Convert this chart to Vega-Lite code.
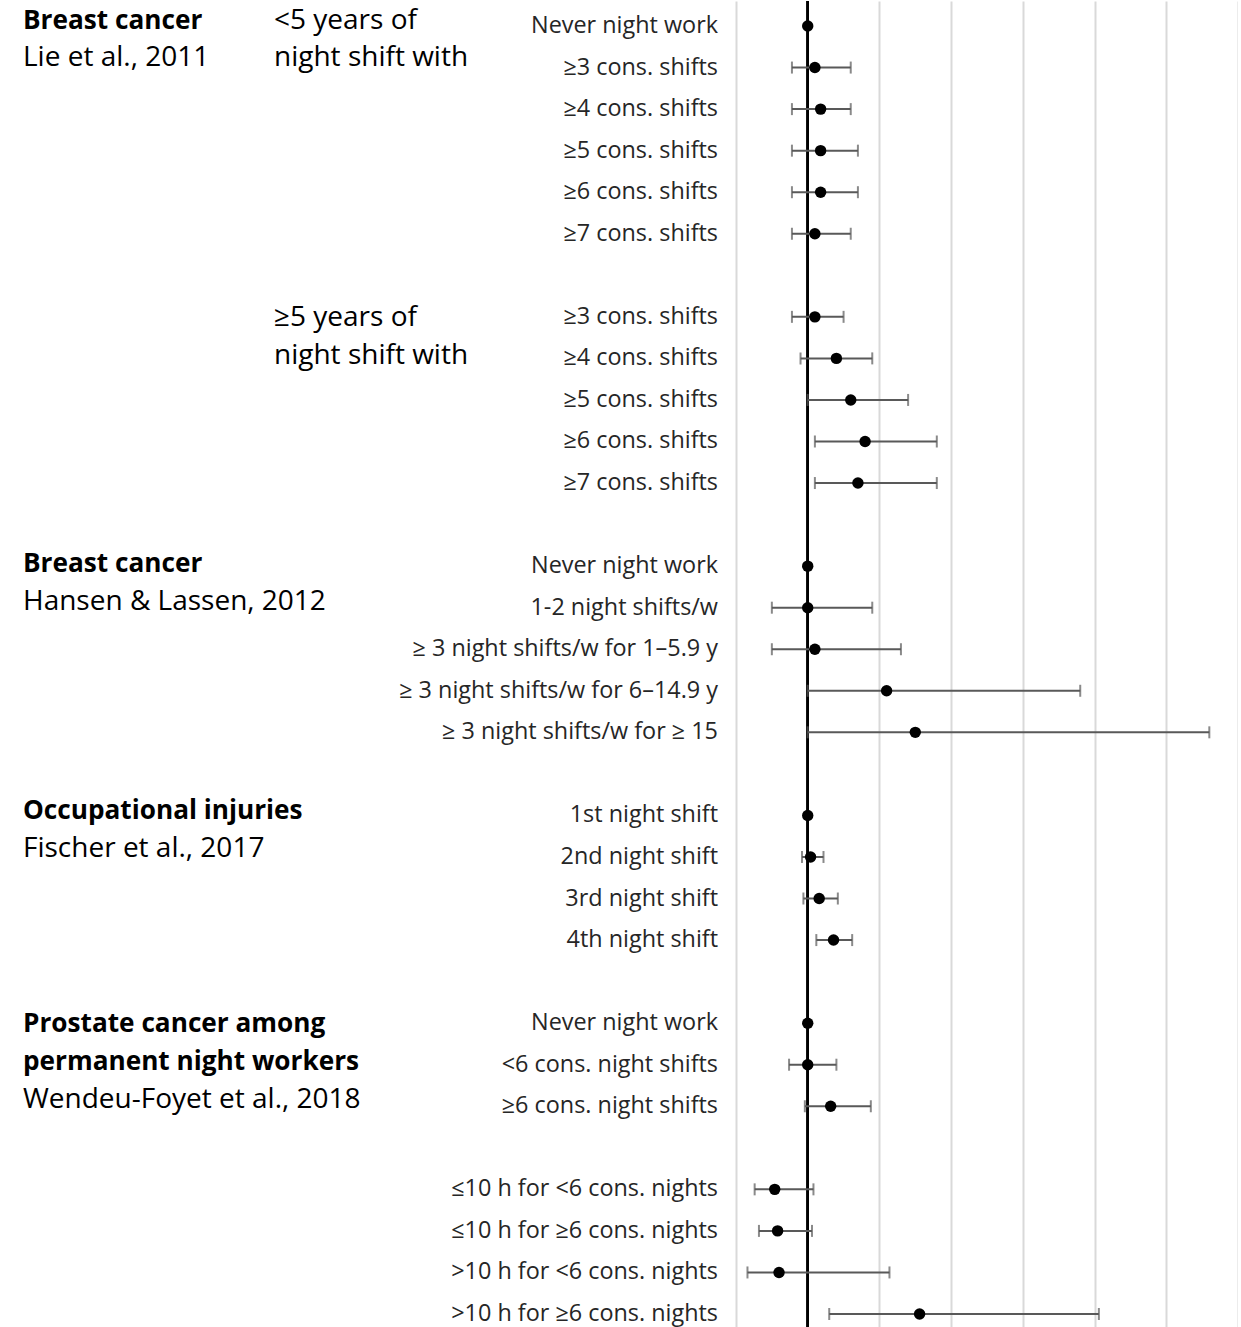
{
  "$schema": "https://vega.github.io/schema/vega-lite/v6.json",
  "padding": 0,
  "bounds": "flush",
  "spacing": 439,
  "config": {"view": {"stroke": null}, "font": "Open Sans"},
  "datasets": {
    "rows": [
      {"row": 0, "label": "Never night work", "est": 1.0, "lo": null, "hi": null},
      {"row": 1, "label": "≥3 cons. shifts", "est": 1.05, "lo": 0.89, "hi": 1.30},
      {"row": 2, "label": "≥4 cons. shifts", "est": 1.09, "lo": 0.89, "hi": 1.30},
      {"row": 3, "label": "≥5 cons. shifts", "est": 1.09, "lo": 0.89, "hi": 1.35},
      {"row": 4, "label": "≥6 cons. shifts", "est": 1.09, "lo": 0.89, "hi": 1.35},
      {"row": 5, "label": "≥7 cons. shifts", "est": 1.05, "lo": 0.89, "hi": 1.30},
      {"row": 7, "label": "≥3 cons. shifts", "est": 1.05, "lo": 0.89, "hi": 1.25},
      {"row": 8, "label": "≥4 cons. shifts", "est": 1.2, "lo": 0.95, "hi": 1.45},
      {"row": 9, "label": "≥5 cons. shifts", "est": 1.3, "lo": 1.0, "hi": 1.7},
      {"row": 10, "label": "≥6 cons. shifts", "est": 1.4, "lo": 1.05, "hi": 1.9},
      {"row": 11, "label": "≥7 cons. shifts", "est": 1.35, "lo": 1.05, "hi": 1.9},
      {"row": 13, "label": "Never night work", "est": 1.0, "lo": null, "hi": null},
      {"row": 14, "label": "1-2 night shifts/w", "est": 1.0, "lo": 0.75, "hi": 1.45},
      {"row": 15, "label": "≥ 3 night shifts/w for 1–5.9 y", "est": 1.05, "lo": 0.75, "hi": 1.65},
      {"row": 16, "label": "≥ 3 night shifts/w for 6–14.9 y", "est": 1.55, "lo": 1.0, "hi": 2.9},
      {"row": 17, "label": "≥ 3 night shifts/w for ≥ 15\u00a0", "est": 1.75, "lo": 1.0, "hi": 3.8},
      {"row": 19, "label": "1st night shift", "est": 1.0, "lo": null, "hi": null},
      {"row": 20, "label": "2nd night shift", "est": 1.02, "lo": 0.96, "hi": 1.11},
      {"row": 21, "label": "3rd night shift", "est": 1.08, "lo": 0.97, "hi": 1.21},
      {"row": 22, "label": "4th night shift", "est": 1.18, "lo": 1.06, "hi": 1.31},
      {"row": 24, "label": "Never night work", "est": 1.0, "lo": null, "hi": null},
      {"row": 25, "label": "<6 cons. night shifts", "est": 1.0, "lo": 0.87, "hi": 1.2},
      {"row": 26, "label": "≥6 cons. night shifts", "est": 1.16, "lo": 0.98, "hi": 1.44},
      {"row": 28, "label": "≤10 h for <6 cons. nights", "est": 0.77, "lo": 0.63, "hi": 1.04},
      {"row": 29, "label": "≤10 h for ≥6 cons. nights", "est": 0.79, "lo": 0.66, "hi": 1.03},
      {"row": 30, "label": ">10 h for <6 cons. nights", "est": 0.80, "lo": 0.58, "hi": 1.57},
      {"row": 31, "label": ">10 h for ≥6 cons. nights", "est": 1.78, "lo": 1.15, "hi": 3.03}
    ],
    "notes": [
      {"row": -0.12, "col": "outcome", "kind": "outcome", "text": "Breast cancer"},
      {"row": 0.77, "col": "outcome", "kind": "study", "text": "Lie et al., 2011"},
      {"row": -0.12, "col": "exposure", "kind": "exposure", "text": "<5 years of"},
      {"row": 0.77, "col": "exposure", "kind": "exposure", "text": "night shift with"},
      {"row": 7.03, "col": "exposure", "kind": "exposure", "text": "≥5 years of"},
      {"row": 7.94, "col": "exposure", "kind": "exposure", "text": "night shift with"},
      {"row": 12.95, "col": "outcome", "kind": "outcome", "text": "Breast cancer"},
      {"row": 13.86, "col": "outcome", "kind": "study", "text": "Hansen & Lassen, 2012"},
      {"row": 18.89, "col": "outcome", "kind": "outcome", "text": "Occupational injuries"},
      {"row": 19.81, "col": "outcome", "kind": "study", "text": "Fischer et al., 2017"},
      {"row": 24.02, "col": "outcome", "kind": "outcome", "text": "Prostate cancer among"},
      {"row": 24.93, "col": "outcome", "kind": "outcome", "text": "permanent night workers"},
      {"row": 25.85, "col": "outcome", "kind": "study", "text": "Wendeu-Foyet et al., 2018"}
    ]
  },
  "hconcat": [
    {
      "width": 297,
      "height": 1327,
      "data": {"name": "notes"},
      "encoding": {
        "x": {"field": "col", "type": "nominal", "scale": {"type": "point", "domain": ["outcome", "exposure"], "padding": 0.0916}, "axis": null},
        "y": {"field": "row", "type": "quantitative", "scale": {"domain": [-0.602, 31.337], "reverse": true, "nice": false, "zero": false}, "axis": null},
        "text": {"field": "text", "type": "nominal"}
      },
      "layer": [
        {
          "transform": [{"filter": "datum.kind === 'outcome'"}],
          "mark": {"type": "text", "align": "left", "baseline": "middle", "font": "Open Sans", "fontSize": 26.2, "fontWeight": "bold", "color": "#000000"}
        },
        {
          "transform": [{"filter": "datum.kind !== 'outcome'"}],
          "mark": {"type": "text", "align": "left", "baseline": "middle", "font": "Open Sans", "fontSize": 28, "color": "#000000"}
        }
      ]
    },
    {
      "width": 502,
      "height": 1327,
      "data": {"name": "rows"},
      "layer": [
        {
          "mark": {"type": "rule", "color": "#000000", "strokeWidth": 1.6},
          "encoding": {
            "x": {"datum": 1, "type": "quantitative", "scale": {"domain": [0.5, 4], "nice": false, "zero": false},
                  "axis": {"values": [0.5, 1.5, 2, 2.5, 3, 3.5, 4], "grid": true, "gridColor": "#d9d9d9", "gridWidth": 2, "labels": false, "ticks": false, "domain": false, "title": null}}
          }
        },
        {
          "transform": [{"filter": "isValid(datum.lo)"}],
          "mark": {"type": "rule", "color": "#595959", "strokeWidth": 2},
          "encoding": {
            "x": {"field": "lo", "type": "quantitative"},
            "x2": {"field": "hi"},
            "y": {"field": "row", "type": "quantitative", "scale": {"domain": [-0.602, 31.337], "reverse": true, "nice": false, "zero": false}, "axis": null}
          }
        },
        {
          "transform": [{"filter": "isValid(datum.lo)"}],
          "mark": {"type": "tick", "orient": "vertical", "color": "#595959", "size": 12, "thickness": 2},
          "encoding": {
            "x": {"field": "lo", "type": "quantitative"},
            "y": {"field": "row", "type": "quantitative", "axis": null}
          }
        },
        {
          "transform": [{"filter": "isValid(datum.hi)"}],
          "mark": {"type": "tick", "orient": "vertical", "color": "#595959", "size": 12, "thickness": 2},
          "encoding": {
            "x": {"field": "hi", "type": "quantitative"},
            "y": {"field": "row", "type": "quantitative", "axis": null}
          }
        },
        {
          "mark": {"type": "circle", "color": "#000000", "opacity": 1, "size": 130},
          "encoding": {
            "x": {"field": "est", "type": "quantitative"},
            "y": {"field": "row", "type": "quantitative", "axis": null}
          }
        },
        {
          "mark": {"type": "text", "align": "right", "baseline": "middle", "dx": -18, "font": "Open Sans", "fontSize": 23.4, "color": "#262626"},
          "encoding": {
            "x": {"datum": 0.5, "type": "quantitative"},
            "y": {"field": "row", "type": "quantitative", "axis": null},
            "text": {"field": "label", "type": "nominal"}
          }
        }
      ]
    }
  ]
}
